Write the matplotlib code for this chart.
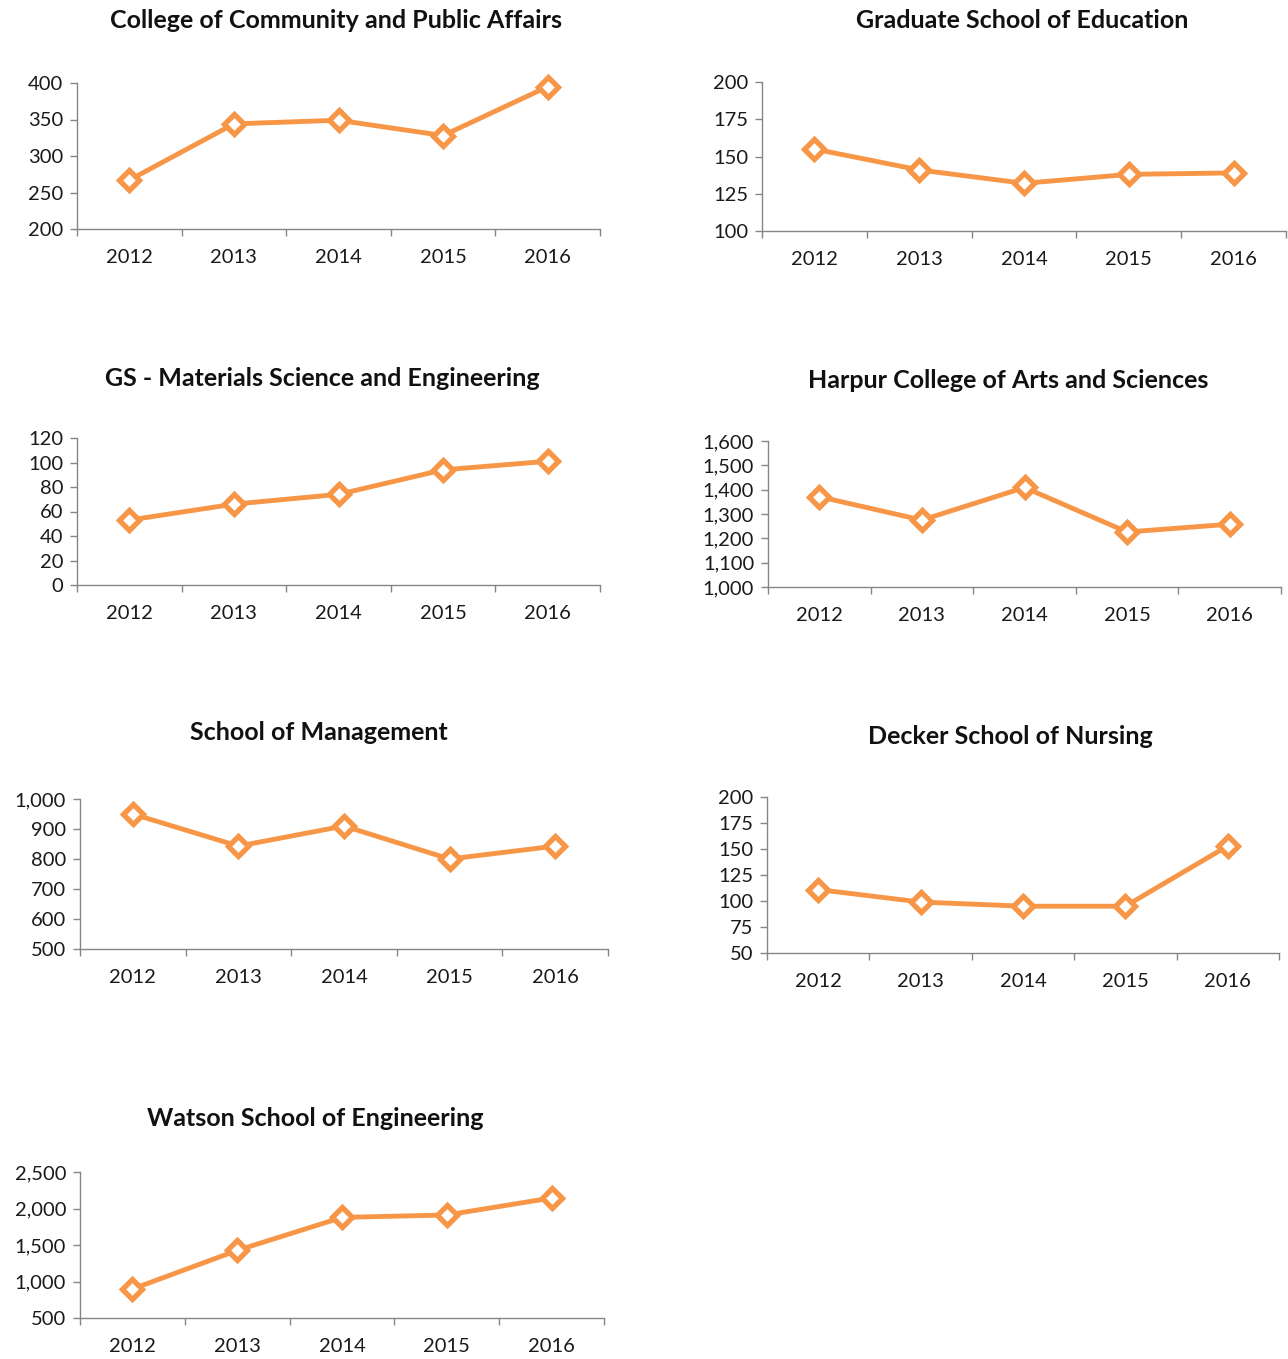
import matplotlib
matplotlib.use("Agg")
import matplotlib.pyplot as plt
from matplotlib.ticker import FixedLocator, StrMethodFormatter, NullFormatter
import numpy as np

plt.rcParams['font.family'] = ['Lato', 'DejaVu Sans']

years = ['2012', '2013', '2014', '2015', '2016']

titles = [
    'College of Community and Public Affairs',
    'Graduate School of Education',
    'GS - Materials Science and Engineering',
    'Harpur College of Arts and Sciences',
    'School of Management',
    'Decker School of Nursing',
    'Watson School of Engineering',
]

ccpa = [267, 344, 349, 328, 395]
gse = [155, 141, 132, 138, 139]
mse = [53, 66, 74, 94, 101]
harpur = [1371, 1275, 1409, 1226, 1258]
som = [950, 843, 910, 800, 843]
nursing = [111, 99, 95, 95, 153]
watson = [897, 1426, 1878, 1911, 2144]

series = [ccpa, gse, mse, harpur, som, nursing, watson]

y_min = [200, 100, 0, 1000, 500, 50, 500]
y_max = [400, 200, 120, 1600, 1000, 200, 2500]
y_step = [50, 25, 20, 100, 100, 25, 500]

W, H = 1288, 1359
# axes boxes in pixels: left, right, top, bottom ; title centre x, y
boxes = [
    (77, 600, 83, 229, 336, 20),
    (762, 1286, 82, 231, 1022, 20),
    (77, 600, 438, 585, 322, 379),
    (768, 1281, 441, 587, 1008, 381),
    (80, 608, 799, 949, 319, 732),
    (767, 1279, 797, 953, 1010, 736),
    (80, 604, 1172, 1318, 315, 1118),
]

orange = '#F79646'
grey = '#868686'

fig = plt.figure(figsize=(W / 100, H / 100), dpi=100)

for i, vals in enumerate(series):
    l, r, t, b, tx, ty = boxes[i]
    ax = fig.add_axes([l / W, 1 - b / H, (r - l) / W, (b - t) / H])
    x = np.arange(len(years))
    ax.plot(x, vals, color=orange, lw=3.5, marker='D', markersize=10.5,
            markerfacecolor='white', markeredgecolor=orange,
            markeredgewidth=3.8, zorder=3, clip_on=False)
    ax.set_xlim(-0.5, len(years) - 0.5)
    ax.set_ylim(y_min[i], y_max[i])
    ax.yaxis.set_major_locator(FixedLocator(np.arange(y_min[i], y_max[i] + 1, y_step[i])))
    ax.yaxis.set_major_formatter(StrMethodFormatter('{x:,.0f}'))
    ax.xaxis.set_major_locator(FixedLocator(np.arange(-0.5, len(years), 1.0)))
    ax.xaxis.set_major_formatter(NullFormatter())
    ax.xaxis.set_minor_locator(FixedLocator(x))
    ax.set_xticklabels(years, minor=True)
    ax.tick_params(axis='x', which='major', length=5, width=1, color=grey, direction='out')
    ax.tick_params(axis='x', which='minor', length=0, pad=14.5, labelsize=14.5, labelcolor='#1a1a1a')
    ax.tick_params(axis='y', length=5, width=1, color=grey, direction='out', pad=5,
                   labelsize=14.5, labelcolor='#1a1a1a')
    for s in ['top', 'right']:
        ax.spines[s].set_visible(False)
    for s in ['left', 'bottom']:
        ax.spines[s].set_color(grey)
        ax.spines[s].set_linewidth(1)
    ax.set_facecolor('none')
    fig.text(tx / W, 1 - ty / H, titles[i], ha='center', va='center',
             fontsize=18, fontweight='bold', color='#111111')

fig.savefig('out.png', dpi=100, facecolor='white')
